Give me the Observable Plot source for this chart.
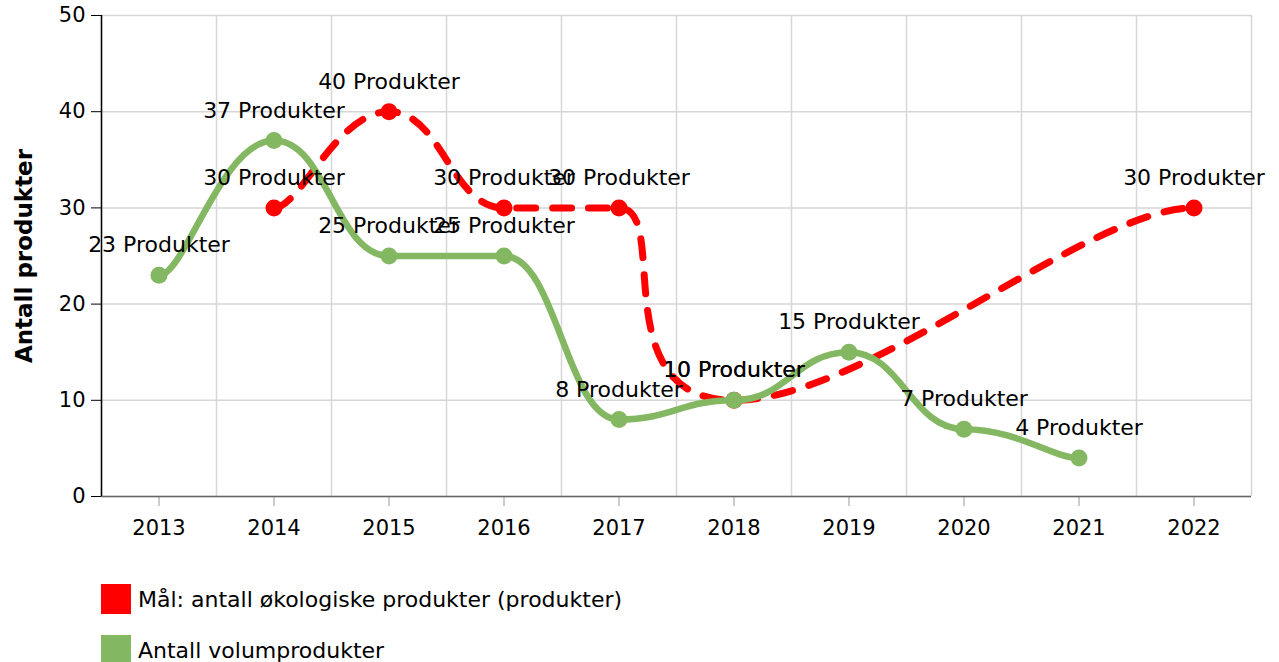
<!DOCTYPE html>
<html><head><meta charset="utf-8">
<script src="https://cdn.jsdelivr.net/npm/d3@7"></script>
<script src="https://cdn.jsdelivr.net/npm/@observablehq/plot@0.6"></script>
<style>
html,body{margin:0;padding:0;background:#fff;font-family:"DejaVu Sans",Verdana,sans-serif;}
#legend{margin-left:101px;margin-top:24px;}
.item{display:flex;align-items:center;height:30px;font-size:22px;color:#000;margin-bottom:21px;white-space:nowrap;}
.sw{width:30px;height:30px;margin-right:7px;flex:none;}
</style></head><body><div id="chart"></div><div id="legend"></div>
<script>
const years = [2013, 2014, 2015, 2016, 2017, 2018, 2019, 2020, 2021, 2022];
const goalYears = [2014, 2015, 2016, 2017, 2018, 2022];
const goalValues = [30, 40, 30, 30, 10, 30];
const volumeYears = [2013, 2014, 2015, 2016, 2017, 2018, 2019, 2020, 2021];
const volumeValues = [23, 37, 25, 25, 8, 10, 15, 7, 4];
const seriesNames = ["Mål: antall økologiske produkter (produkter)", "Antall volumprodukter"];
const seriesColors = ["#ff0000", "#84b762"];
const yTicks = [0, 10, 20, 30, 40, 50];
const unit = "Produkter";
const yTitle = "Antall produkter";

const goal = goalYears.map((y, i) => ({year: y, value: goalValues[i]}));
const volume = volumeYears.map((y, i) => ({year: y, value: volumeValues[i]}));
const bounds = [years[0] - 0.5, ...years.map(y => y + 0.5)];
const lab = d => `${d.value} ${unit}`;

// Tension-style smoothing (horizontal tangents in y, tension in x)
function tensionCurve(fx, fy) {
  return function(context) {
    let pts = [];
    return {
      areaStart() {}, areaEnd() {},
      lineStart() { pts = []; },
      point(x, y) { pts.push([+x, +y]); },
      lineEnd() {
        const n = pts.length;
        if (!n) return;
        context.moveTo(pts[0][0], pts[0][1]);
        for (let i = 0; i < n - 1; i++) {
          const p0 = pts[i > 0 ? i - 1 : i], p1 = pts[i], p2 = pts[i + 1], p3 = pts[i + 2 < n ? i + 2 : i + 1];
          context.bezierCurveTo(
            p1[0] + (p2[0] - p0[0]) * fx, p1[1] + (p2[1] - p0[1]) * fy,
            p2[0] - (p3[0] - p1[0]) * fx, p2[1] - (p3[1] - p1[1]) * fy,
            p2[0], p2[1]);
        }
      }
    };
  };
}
const smooth = tensionCurve(0.23, 0);

const chart = Plot.plot({
  width: 1279,
  height: 560,
  marginTop: 15,
  marginBottom: 64,
  marginLeft: 101,
  marginRight: 28,
  style: {fontFamily: '"DejaVu Sans", Verdana, sans-serif', background: "#fff"},
  x: {domain: [years[0] - 0.5, years[years.length - 1] + 0.5]},
  y: {domain: [0, 50]},
  marks: [
    Plot.gridX(bounds, {stroke: "#d6d6d6", strokeOpacity: 1, strokeWidth: 1.5}),
    Plot.gridY(yTicks, {stroke: "#d6d6d6", strokeOpacity: 1, strokeWidth: 1.5}),
    Plot.axisX(years, {tickFormat: d => String(d), tickSize: 10, tickPadding: 14, stroke: "#999", fill: "#000", fontSize: 21, label: null}),
    Plot.axisY(yTicks, {tickSize: 10, tickPadding: 6, stroke: "#000", fill: "#000", fontSize: 21, label: null}),
    Plot.ruleY([0], {stroke: "#666", strokeWidth: 1.5}),
    Plot.ruleX([years[0] - 0.5], {stroke: "#000", strokeWidth: 1.5}),
    Plot.text([yTitle], {frameAnchor: "left", dx: -77, rotate: -90, textAnchor: "middle", fontSize: 23, fontWeight: "bold", fill: "#000"}),
    Plot.line(goal, {x: "year", y: "value", curve: smooth, stroke: seriesColors[0], strokeWidth: 7, strokeDasharray: "19,17"}),
    Plot.dot(goal, {x: "year", y: "value", r: 8.5, fill: seriesColors[0]}),
    Plot.line(volume, {x: "year", y: "value", curve: smooth, stroke: seriesColors[1], strokeWidth: 6.5}),
    Plot.dot(volume, {x: "year", y: "value", r: 8.5, fill: seriesColors[1]}),
    Plot.text(goal, {x: "year", y: "value", text: lab, dy: -30, fontSize: 22, fill: "#000"}),
    Plot.text(volume, {x: "year", y: "value", text: lab, dy: -30, fontSize: 22, fill: "#000"})
  ]
});
document.getElementById("chart").appendChild(chart);

const legend = document.getElementById("legend");
seriesNames.forEach((n, i) => {
  const it = document.createElement("div");
  it.className = "item";
  const sw = document.createElement("span");
  sw.className = "sw";
  sw.style.background = seriesColors[i];
  const t = document.createElement("span");
  t.textContent = n;
  it.appendChild(sw); it.appendChild(t);
  legend.appendChild(it);
});
</script></body></html>
